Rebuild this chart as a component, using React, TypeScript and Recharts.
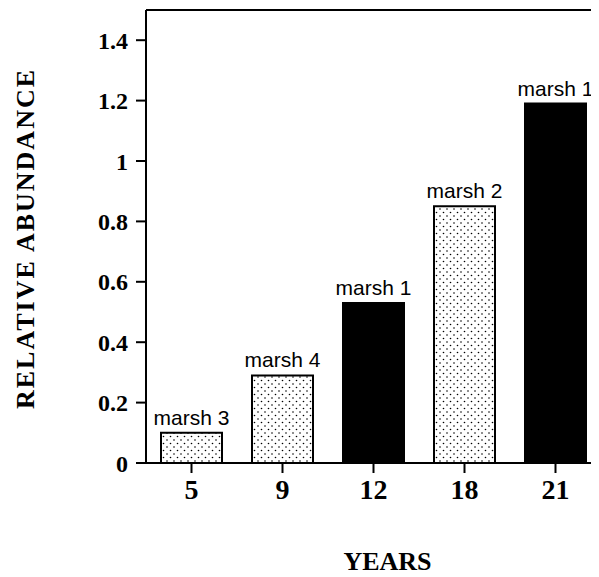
import { BarChart, Bar, XAxis, YAxis, Cell, LabelList, ReferenceLine } from "recharts";

const years = ["5", "9", "12", "18", "21"];
const abundance = [0.1, 0.29, 0.53, 0.85, 1.19];
const marshes = ["marsh 3", "marsh 4", "marsh 1", "marsh 2", "marsh 1"];
const yTicks = [0, 0.2, 0.4, 0.6, 0.8, 1, 1.2, 1.4];

const data = years.map((year, i) => ({
  year,
  value: abundance[i],
  marsh: marshes[i],
}));

const serif = "'Liberation Serif', 'Times New Roman', serif";
const sans = "'Liberation Sans', Arial, sans-serif";

const fmtTick = (v: number) => (v === 0 || v === 1 ? String(v) : v.toFixed(1));

export default function App() {
  return (
    <div style={{ width: 591, height: 569, overflow: "hidden" }}>
      <BarChart
        width={600}
        height={572}
        data={data}
        margin={{ top: 2, right: 7, left: 0, bottom: 0 }}
      >
        <defs>
          <pattern id="dots" width="7" height="7" patternUnits="userSpaceOnUse">
            <rect width="7" height="7" fill="#fff" />
            <circle cx="1.5" cy="1.5" r="0.8" fill="#000" />
            <circle cx="5" cy="5" r="0.8" fill="#000" />
          </pattern>
        </defs>
        <ReferenceLine y={1.5} stroke="#000" strokeWidth={2} />
        <XAxis
          dataKey="year"
          height={117}
          stroke="#000"
          strokeWidth={2}
          tickSize={10}
          tickMargin={6}
          tick={{ fontSize: 28, fontWeight: "bold", fontFamily: serif, fill: "#000" }}
          label={{
            content: ({ viewBox }: any) => (
              <text
                x={viewBox.x + viewBox.width / 2 + 14}
                y={viewBox.y + 107}
                textAnchor="middle"
                fontSize={26}
                fontWeight="bold"
                fontFamily={serif}
                fill="#000"
              >
                YEARS
              </text>
            ),
          }}
        />
        <YAxis
          width={138}
          domain={[0, 1.5]}
          ticks={yTicks}
          tickFormatter={fmtTick}
          stroke="#000"
          strokeWidth={2}
          tickSize={10}
          tickMargin={8}
          tick={{ fontSize: 24, fontWeight: "bold", fontFamily: serif, fill: "#000" }}
          label={{
            content: ({ viewBox }: any) => {
              const cx = 17;
              const cy = viewBox.y + viewBox.height / 2 + 2;
              return (
                <text
                  x={cx}
                  y={cy}
                  transform={`rotate(-90, ${cx}, ${cy})`}
                  textAnchor="middle"
                  dominantBaseline="central"
                  fontSize={26}
                  fontWeight="bold"
                  fontFamily={serif}
                  letterSpacing={2}
                  fill="#000"
                >
                  RELATIVE ABUNDANCE
                </text>
              );
            },
          }}
        />
        <Bar dataKey="value" barSize={61} isAnimationActive={false} stroke="#000" strokeWidth={2}>
          {data.map((d, i) => (
            <Cell key={i} fill={d.marsh === "marsh 1" ? "#000" : "url(#dots)"} />
          ))}
          <LabelList
            dataKey="marsh"
            position="top"
            offset={8}
            style={{ fontSize: 21, fontFamily: sans, fill: "#000" }}
          />
        </Bar>
      </BarChart>
    </div>
  );
}
